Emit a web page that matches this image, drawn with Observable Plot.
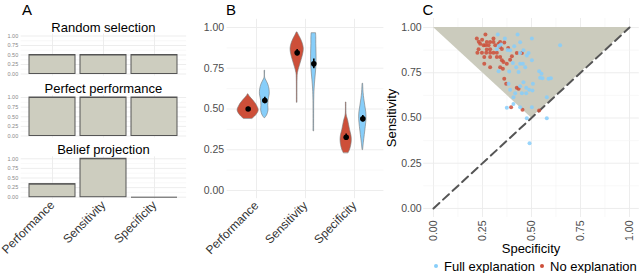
<!DOCTYPE html>
<html><head><meta charset="utf-8">
<script src="https://cdn.jsdelivr.net/npm/d3@7"></script>
<script src="https://cdn.jsdelivr.net/npm/@observablehq/plot@0.6"></script>
<style>
body{margin:0;background:#fff;}
#root{position:relative;width:640px;height:273px;overflow:hidden;font-family:"Liberation Sans",Arial,sans-serif;background:#fff;}
#root svg{position:absolute;left:0;top:0;}
.lbl{position:absolute;white-space:nowrap;color:#000;line-height:1;}
</style></head><body><div id="root"></div>
<script>
// ---------- data ----------
const measures = ["Performance", "Sensitivity", "Specificity"];
const scenarioTitles = ["Random selection", "Perfect performance", "Belief projection"];
const randomSelection = [0.5, 0.5, 0.5];
const perfectPerformance = [1, 1, 1];
const beliefProjection = [0.34, 1, 0];
const majorTicks = [0, 0.25, 0.5, 0.75, 1];
const minorTicks = [0.125, 0.375, 0.625, 0.875];
const groups = ["No explanation", "Full explanation"];
const groupColors = ["#CD4F39", "#87CEFA"];

// violin profiles: [value, half-width (in category units)]
const violinNoPerformance = [[0.44,0.09],[0.46,0.16],[0.49,0.215],[0.52,0.18],[0.55,0.11],[0.57,0.05],[0.585,0.015],[0.59,0.005]];
const violinFullPerformance = [[0.445,0.01],[0.46,0.045],[0.49,0.075],[0.52,0.07],[0.55,0.075],[0.59,0.1],[0.62,0.095],[0.65,0.07],[0.675,0.03],[0.69,0.008],[0.735,0.006]];
const violinNoSensitivity = [[0.54,0.006],[0.68,0.008],[0.72,0.015],[0.76,0.05],[0.80,0.09],[0.84,0.125],[0.87,0.135],[0.90,0.115],[0.93,0.075],[0.95,0.04],[0.97,0.008]];
const violinFullSensitivity = [[0.365,0.006],[0.55,0.008],[0.62,0.015],[0.68,0.03],[0.73,0.045],[0.78,0.055],[0.84,0.055],[0.90,0.05],[0.94,0.05],[0.965,0.045]];
const violinNoSpecificity = [[0.23,0.05],[0.25,0.08],[0.28,0.105],[0.31,0.115],[0.34,0.105],[0.37,0.08],[0.40,0.06],[0.43,0.04],[0.45,0.02],[0.47,0.008],[0.54,0.006]];
const violinFullSpecificity = [[0.25,0.006],[0.29,0.02],[0.34,0.04],[0.39,0.06],[0.44,0.075],[0.48,0.07],[0.52,0.05],[0.56,0.03],[0.60,0.015],[0.655,0.006]];
const meansNo = [0.50, 0.845, 0.327];
const meansFull = [0.552, 0.777, 0.44];
const ciNo = [0.01, 0.02, 0.02];
const ciFull = [0.02, 0.03, 0.02];

// panel C individual points
const noSpecificity = [0.221,0.265,0.231,0.248,0.238,0.255,0.230,0.224,0.247,0.269,0.289,0.306,0.323,0.272,0.289,0.315,0.332,0.340,0.306,0.289,0.272,0.265,0.281,0.259,0.289,0.323,0.340,0.349,0.357,0.259,0.289,0.340,0.354,0.374,0.391,0.400,0.425,0.451,0.361,0.371,0.425,0.434,0.396,0.454,0.539,0.361,0.349,0.306,0.340,0.381];
const noSensitivity = [0.939,0.961,0.922,0.933,0.911,0.902,0.880,0.861,0.861,0.861,0.861,0.861,0.861,0.878,0.880,0.902,0.911,0.920,0.920,0.920,0.920,0.902,0.902,0.837,0.837,0.837,0.837,0.819,0.809,0.800,0.781,0.781,0.772,0.800,0.822,0.841,0.859,0.859,0.717,0.689,0.667,0.661,0.559,0.546,0.541,0.917,0.881,0.939,0.893,0.887];
const fullSpecificity = [0.328,0.364,0.429,0.502,0.412,0.442,0.333,0.344,0.323,0.378,0.391,0.442,0.459,0.485,0.502,0.476,0.405,0.442,0.456,0.422,0.468,0.434,0.386,0.332,0.539,0.551,0.556,0.587,0.599,0.544,0.507,0.459,0.442,0.473,0.383,0.391,0.417,0.451,0.473,0.488,0.505,0.408,0.408,0.374,0.442,0.502,0.578,0.476,0.578,0.646,0.49];
const fullSensitivity = [0.961,0.939,0.961,0.939,0.896,0.919,0.898,0.906,0.880,0.876,0.874,0.859,0.874,0.859,0.819,0.846,0.804,0.800,0.800,0.781,0.781,0.754,0.757,0.759,0.759,0.744,0.720,0.717,0.720,0.722,0.689,0.698,0.676,0.667,0.689,0.656,0.637,0.637,0.637,0.656,0.652,0.615,0.578,0.556,0.559,0.559,0.615,0.498,0.498,0.902,0.36];
const triangle = [{x:0,y1:1,y2:1},{x:0.5,y1:0.5,y2:1},{x:1,y1:1,y2:1}];
const diagonal = [{x:0,y:0},{x:1,y:1}];

// ---------- helpers ----------
const root = document.getElementById("root");
const FONT = "'Liberation Sans',Arial,sans-serif";
function frame(l, r, t, b) {
  return {width: 640, height: 273, marginLeft: l, marginRight: 640 - r, marginTop: t, marginBottom: 273 - b};
}
function svgStyle(size, color) {
  return `background:transparent;font-family:${FONT};font-size:${size}px;color:${color};overflow:visible;`;
}
function label(text, x, y, size, extra = "") {
  const d = document.createElement("div");
  d.className = "lbl";
  d.textContent = text;
  d.style.left = x + "px";
  d.style.top = y + "px";
  d.style.fontSize = size + "px";
  d.style.transform = "translate(-50%,-50%)" + extra;
  root.appendChild(d);
  return d;
}
const fmt = d => d.toFixed(2);
const gridMarks = (xRule) => [
  Plot.ruleY(minorTicks, {stroke: "#f4f4f4", strokeWidth: 0.6}),
  Plot.ruleY(majorTicks, {stroke: "#ebebeb", strokeWidth: 0.9}),
  xRule
];

// ---------- panel A ----------
const scenarioValues = [randomSelection, perfectPerformance, beliefProjection];
const facetY = [[35.5, 73.5], [97, 135.5], [158.3, 196.7]]; // pixel of 1 and 0
scenarioValues.forEach((vals, i) => {
  const [p1, p0] = facetY[i];
  const unit = p0 - p1;
  const bars = measures.map((m, j) => ({m, v: vals[j]}));
  root.appendChild(Plot.plot({
    ...frame(20.7, 186.1, p1 - 0.05 * unit, p0 + 0.05 * unit),
    style: svgStyle(12, "#333"),
    x: {domain: measures, paddingInner: 0.1, paddingOuter: 0.15, axis: i === 2 ? "bottom" : null,
        tickSize: 0, tickPadding: 4, tickRotate: -45, label: null},
    y: {domain: [-0.05, 1.05], axis: null},
    marks: [
      ...gridMarks(Plot.ruleX(measures, {x: d => d, stroke: "#ebebeb", strokeWidth: 0.9})),
      Plot.text(majorTicks, {y: d => d, text: fmt, frameAnchor: "left", dx: -3, textAnchor: "end", fontSize: 5.5, fill: "#888"}),
      Plot.barY(bars, {x: "m", y: "v", fill: "#CDCDBF", stroke: "#555", strokeWidth: 1}),
      Plot.tickY(bars, {x: "m", y: "v", stroke: "#555", strokeWidth: 1})
    ]
  }));
  label(scenarioTitles[i], 103.4, [27, 88, 148.5][i], 13);
});

// ---------- panel B ----------
const violinSets = [
  [violinNoPerformance, violinNoSensitivity, violinNoSpecificity],
  [violinFullPerformance, violinFullSensitivity, violinFullSpecificity]
];
const dodge = [-0.17, 0.17];
const violinRows = [];
const meanRows = [];
groups.forEach((g, k) => {
  measures.forEach((m, j) => {
    violinSets[k][j].forEach(([v, w]) => violinRows.push({g, m, c: j + 1 + dodge[k], v, w}));
    const mean = (k === 0 ? meansNo : meansFull)[j];
    const ci = (k === 0 ? ciNo : ciFull)[j];
    meanRows.push({g, m, c: j + 1 + dodge[k], mean, lo: mean - ci, hi: mean + ci});
  });
});
root.appendChild(Plot.plot({
  ...frame(226.6, 383.4, 18.85, 198.15),
  style: svgStyle(12, "#333"),
  color: {domain: groups, range: groupColors},
  x: {domain: [0.4, 3.6], ticks: [1, 2, 3], tickFormat: d => measures[d - 1], tickRotate: -45,
      tickSize: 0, tickPadding: 5, label: null},
  y: {domain: [-0.05, 1.05], axis: null},
  marks: [
    ...gridMarks(Plot.ruleX([1, 2, 3], {stroke: "#ebebeb", strokeWidth: 0.9})),
    Plot.text(majorTicks, {y: d => d, text: fmt, frameAnchor: "left", dx: -3, textAnchor: "end", fontSize: 10.5, fill: "#4d4d4d"}),
    Plot.areaX(violinRows, {y: "v", x1: d => d.c - d.w, x2: d => d.c + d.w, z: d => d.g + d.m,
      fill: "g", stroke: "#777", strokeWidth: 0.6, curve: "catmull-rom"}),
    Plot.ruleX(meanRows, {x: "c", y1: "lo", y2: "hi", stroke: "black", strokeWidth: 1.6}),
    Plot.dot(meanRows, {x: "c", y: "mean", r: 2.8, fill: "black"})
  ]
}));

// ---------- panel C ----------
const noPts = noSpecificity.map((s, i) => ({s, t: noSensitivity[i]}));
const fullPts = fullSpecificity.map((s, i) => ({s, t: fullSensitivity[i]}));
root.appendChild(Plot.plot({
  ...frame(423.2, 638.8, 18, 217),
  style: svgStyle(10.5, "#4d4d4d"),
  x: {domain: [-0.05, 1.05], ticks: majorTicks, tickFormat: fmt, tickRotate: -90, tickSize: 0, tickPadding: 3, label: null},
  y: {domain: [-0.05, 1.05], ticks: majorTicks, tickFormat: fmt, tickSize: 0, tickPadding: 2, label: null},
  marks: [
    Plot.ruleX(minorTicks, {stroke: "#f4f4f4", strokeWidth: 0.6}),
    Plot.ruleX(majorTicks, {stroke: "#ebebeb", strokeWidth: 0.9}),
    Plot.ruleY(minorTicks, {stroke: "#f4f4f4", strokeWidth: 0.6}),
    Plot.ruleY(majorTicks, {stroke: "#ebebeb", strokeWidth: 0.9}),
    Plot.areaY(triangle, {x: "x", y1: "y1", y2: "y2", fill: "#CBCBBD"}),
    Plot.line(diagonal, {x: "x", y: "y", stroke: "#555", strokeWidth: 2, strokeDasharray: "8,5"}),
    Plot.dot(noPts, {x: "s", y: "t", r: 2, fill: groupColors[0], fillOpacity: 0.85}),
    Plot.dot(fullPts, {x: "s", y: "t", r: 2, fill: groupColors[1], fillOpacity: 0.85})
  ]
}));

// ---------- text labels ----------
label("A", 27, 9, 15);
label("B", 231, 9, 15);
label("C", 428, 9, 15);
label("Sensitivity", 391, 117.5, 13, " rotate(-90deg)");
label("Specificity", 531, 248, 13);
// legend
function legendItem(x, color, text) {
  const dot = document.createElement("div");
  dot.style.cssText = `position:absolute;left:${x - 2}px;top:${264}px;width:4px;height:4px;border-radius:50%;background:${color};`;
  root.appendChild(dot);
  const t = label(text, 0, 266, 13);
  t.style.left = (x + 8) + "px";
  t.style.transform = "translate(0,-50%)";
}
legendItem(436, groupColors[1], groups[1]);
legendItem(542, groupColors[0], groups[0]);
</script></body></html>
